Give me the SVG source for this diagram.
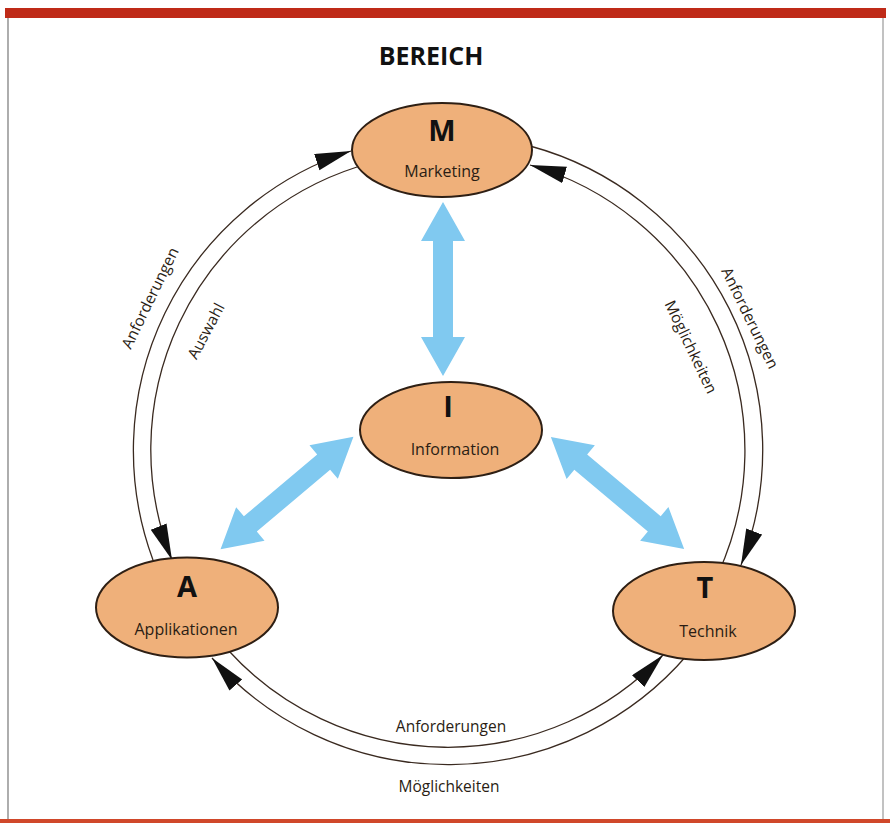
<svg xmlns="http://www.w3.org/2000/svg" width="890" height="823" viewBox="0 0 890 823">
<style>
.node{fill:#efb07a;stroke:#2e1f14;stroke-width:2}
.big{font-family:"Open Sans","Noto Sans",sans-serif;font-weight:bold;font-size:29px;fill:#111;text-anchor:middle}
.lab{font-family:"Open Sans","Noto Sans",sans-serif;font-size:16px;fill:#2a1d14;text-anchor:middle}
.arc{fill:none;stroke:#3a2a20;stroke-width:1.3}
.al{font-family:"Open Sans","Noto Sans",sans-serif;font-size:15.5px;fill:#2a1d14;text-anchor:middle}
.blue{fill:#80c9f0}
</style>
<defs>
<marker id="ah" markerUnits="userSpaceOnUse" markerWidth="40" markerHeight="20" refX="36" refY="8.5" orient="auto">
<path d="M0,0 L36,8.5 L0,17 Z" fill="#111"/>
</marker>
<path id="barrow" d="M-87,0 L-48,-22 L-48,-10 L48,-10 L48,-22 L87,0 L48,22 L48,10 L-48,10 L-48,22 Z"/>
</defs>
<rect x="0" y="0" width="890" height="823" fill="#ffffff"/>
<g id="frame">
<rect x="5" y="8" width="881" height="10" fill="#bf2a18"/>
<line x1="8" y1="18" x2="8" y2="820" stroke="#777" stroke-width="1.2"/>
<line x1="883" y1="18" x2="883" y2="820" stroke="#999" stroke-width="1.2"/>
<rect x="0" y="819" width="890" height="4" fill="#d0482a"/>
</g>
<text x="431" y="65" style="font-family:'Open Sans','Noto Sans',sans-serif;font-weight:bold;font-size:25px;fill:#111;text-anchor:middle">BEREICH</text>
<g id="connectors">
<path class="arc" d="M153,560 A315,315 0 0 1 351,151" marker-end="url(#ah)"/>
<path class="arc" d="M357,167 A297,297 0 0 0 172,560" marker-end="url(#ah)"/>
<path class="arc" d="M530,146 A315,315 0 0 1 741,565" marker-end="url(#ah)"/>
<path class="arc" d="M718,574 A297,297 0 0 0 530,165" marker-end="url(#ah)"/>
<path class="arc" d="M228,650 A297,297 0 0 0 663,655" marker-end="url(#ah)"/>
<path class="arc" d="M688,654 A315,315 0 0 1 212,658" marker-end="url(#ah)"/>
<use href="#barrow" class="blue" transform="translate(443,289) rotate(90)"/>
<use href="#barrow" class="blue" transform="translate(287,493) rotate(-40.2)"/>
<use href="#barrow" class="blue" transform="translate(617.5,493) rotate(40)"/>
<text class="al" transform="translate(150,298) rotate(-64)" dy="0.35em">Anforderungen</text>
<text class="al" transform="translate(206,331) rotate(-62)" dy="0.35em">Auswahl</text>
<text class="al" transform="translate(750,318) rotate(64)" dy="0.35em">Anforderungen</text>
<text class="al" transform="translate(691,347) rotate(64.5)" dy="0.35em">Möglichkeiten</text>
<text class="al" x="451" y="732">Anforderungen</text>
<text class="al" x="449" y="792">Möglichkeiten</text>
</g>
<g id="node-M">
<ellipse class="node" cx="442" cy="150" rx="90" ry="47"/>
<text class="big" x="442" y="141">M</text>
<text class="lab" x="442" y="177">Marketing</text>
</g>
<g id="node-I">
<ellipse class="node" cx="451" cy="430" rx="91" ry="48"/>
<text class="big" x="448" y="417">I</text>
<text class="lab" x="455" y="455">Information</text>
</g>
<g id="node-A">
<ellipse class="node" cx="187" cy="607.5" rx="91" ry="50"/>
<text class="big" x="187" y="597">A</text>
<text class="lab" x="186" y="635">Applikationen</text>
</g>
<g id="node-T">
<ellipse class="node" cx="704" cy="611" rx="91" ry="49"/>
<text class="big" x="705" y="598">T</text>
<text class="lab" x="708" y="637">Technik</text>
</g>
</svg>
